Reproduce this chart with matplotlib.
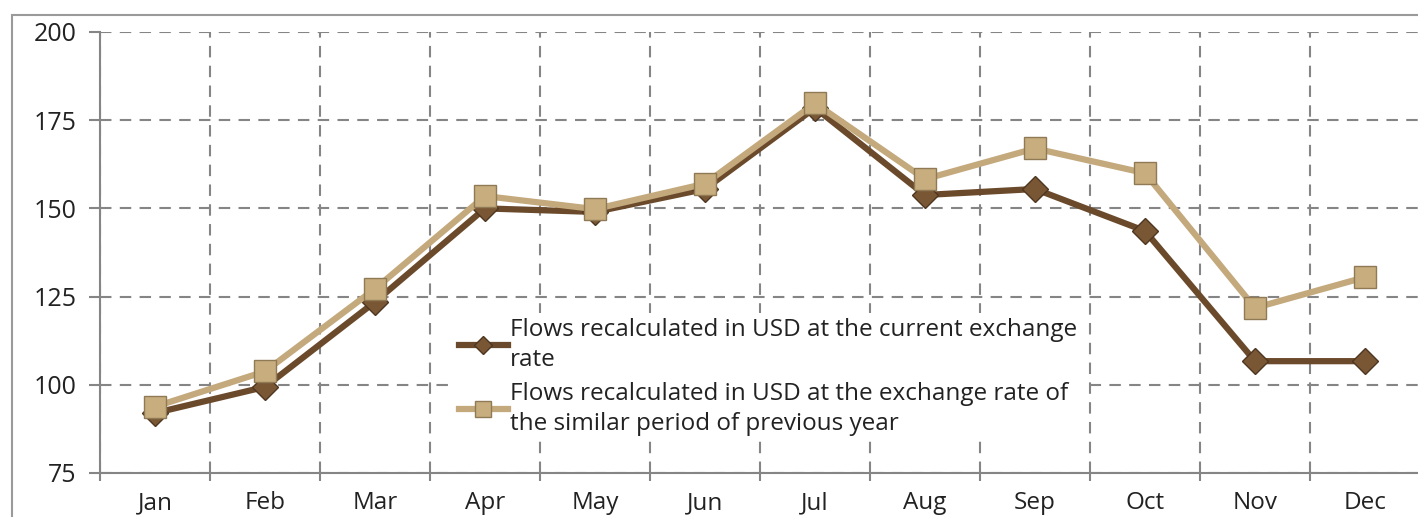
"""Monthly flows recalculated in USD, two exchange-rate bases."""

import matplotlib.pyplot as plt
from matplotlib.patches import Rectangle

import numpy as np


# --- data ----------------------------------------------------------------------------------------

months = ["Jan", "Feb", "Mar", "Apr", "May", "Jun", "Jul", "Aug", "Sep", "Oct", "Nov", "Dec"]
flows_current = [92, 99.4, 123.5, 150, 149, 155.5, 178.5, 153.8, 155.5, 143.6, 106.7, 106.7]
flows_prev_rate = [93.8, 103.8, 127.2, 153.5, 149.8, 157, 179.8, 158.3, 167, 160, 121.8, 130.5]
label_current = "Flows recalculated in USD at the current exchange\nrate"
label_prev = "Flows recalculated in USD at the exchange rate of\nthe similar period of previous year"
yticks = [75, 100, 125, 150, 175, 200]

# --- style ---------------------------------------------------------------------------------------

plt.rcParams["font.family"] = ["Open Sans", "DejaVu Sans"]
dark = "#6b4a2c"
light = "#c3a97c"
grid_c = "#858585"

# --- plot ----------------------------------------------------------------------------------------

W, H = 1418, 517
fig = plt.figure(figsize=(W / 100, H / 100), dpi=100)
fig.patches.append(
    Rectangle((12 / W, -0.1), 1.2, 1 - 15 / H + 0.1, transform=fig.transFigure,
              fill=False, ec="#9a9a9a", lw=1.5)
)

ax = fig.add_axes([100 / W, 1 - 473 / H, 1320 / W, (473 - 32) / H])
x = np.arange(len(months))

ax.plot(x, flows_current, c=dark, lw=4.5, marker="D", ms=13, mfc="#7a5734", mec="#4e3520",
        mew=1, label=label_current, zorder=3)
ax.plot(x, flows_prev_rate, c=light, lw=4.5, marker="s", ms=16, mfc="#c8ad7e", mec="#8f7a55",
        mew=1, label=label_prev, zorder=4)

ax.set_xlim(-0.5, len(months) - 0.5)
ax.set_ylim(75, 200)
ax.set_yticks(yticks)
ax.set_xticks(x)
ax.set_xticklabels(months)
ax.set_xticks(np.arange(len(months)) - 0.5, minor=True)
ax.tick_params(axis="x", which="major", length=0, pad=13, labelsize=17.5, labelcolor="#222222")
ax.tick_params(axis="x", which="minor", length=6, color=grid_c, width=1.5)
ax.tick_params(axis="y", length=8, color=grid_c, width=1.5, pad=9, labelsize=18,
               labelcolor="#222222")

ax.grid(True, axis="y", ls=(0, (5.5, 4)), c=grid_c, lw=1.5)
ax.grid(True, axis="x", which="minor", ls=(0, (5.5, 4)), c=grid_c, lw=1.5)
for side in ["top", "right"]:
    ax.spines[side].set_visible(False)
for side in ["left", "bottom"]:
    ax.spines[side].set_color(grid_c)
    ax.spines[side].set_linewidth(1.5)
ax.set_axisbelow(True)

leg = ax.legend(
    loc="upper left", bbox_to_anchor=(442 / W, 1 - 301 / H), bbox_transform=fig.transFigure,
    fontsize=17.5, frameon=True, fancybox=False, handlelength=2.0, handletextpad=0.1,
    borderpad=0.2, labelspacing=0.4, markerscale=0.7,
)
for t in leg.get_texts():
    t.set_linespacing(1.33)
    t.set_color("#222222")
leg.get_frame().set_facecolor("white")
leg.get_frame().set_edgecolor("none")
leg.get_frame().set_alpha(1)

fig.savefig("out.png", dpi=100)
